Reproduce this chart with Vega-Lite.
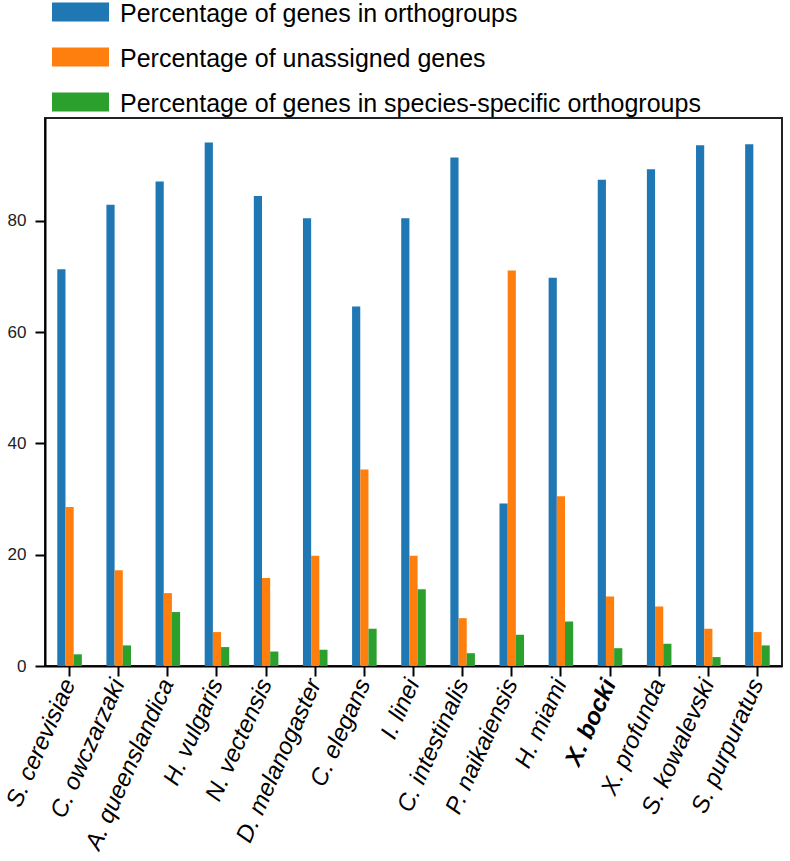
{
  "$schema": "https://vega.github.io/schema/vega-lite/v6.json",
  "width": 737,
  "height": 548,
  "autosize": {"type": "none"},
  "padding": {"left": 45, "top": 118, "right": 8, "bottom": 195},
  "background": "white",
  "data": {
    "values": [
      {"species": "S. cerevisiae", "series": "Percentage of genes in orthogroups", "value": 71.3},
      {"species": "S. cerevisiae", "series": "Percentage of unassigned genes", "value": 28.6},
      {"species": "S. cerevisiae", "series": "Percentage of genes in species-specific orthogroups", "value": 2.1},
      {"species": "C. owczarzaki", "series": "Percentage of genes in orthogroups", "value": 82.9},
      {"species": "C. owczarzaki", "series": "Percentage of unassigned genes", "value": 17.2},
      {"species": "C. owczarzaki", "series": "Percentage of genes in species-specific orthogroups", "value": 3.7},
      {"species": "A. queenslandica", "series": "Percentage of genes in orthogroups", "value": 87.1},
      {"species": "A. queenslandica", "series": "Percentage of unassigned genes", "value": 13.1},
      {"species": "A. queenslandica", "series": "Percentage of genes in species-specific orthogroups", "value": 9.7},
      {"species": "H. vulgaris", "series": "Percentage of genes in orthogroups", "value": 94.1},
      {"species": "H. vulgaris", "series": "Percentage of unassigned genes", "value": 6.1},
      {"species": "H. vulgaris", "series": "Percentage of genes in species-specific orthogroups", "value": 3.4},
      {"species": "N. vectensis", "series": "Percentage of genes in orthogroups", "value": 84.5},
      {"species": "N. vectensis", "series": "Percentage of unassigned genes", "value": 15.8},
      {"species": "N. vectensis", "series": "Percentage of genes in species-specific orthogroups", "value": 2.6},
      {"species": "D. melanogaster", "series": "Percentage of genes in orthogroups", "value": 80.5},
      {"species": "D. melanogaster", "series": "Percentage of unassigned genes", "value": 19.8},
      {"species": "D. melanogaster", "series": "Percentage of genes in species-specific orthogroups", "value": 2.9},
      {"species": "C. elegans", "series": "Percentage of genes in orthogroups", "value": 64.6},
      {"species": "C. elegans", "series": "Percentage of unassigned genes", "value": 35.3},
      {"species": "C. elegans", "series": "Percentage of genes in species-specific orthogroups", "value": 6.7},
      {"species": "I. linei", "series": "Percentage of genes in orthogroups", "value": 80.5},
      {"species": "I. linei", "series": "Percentage of unassigned genes", "value": 19.8},
      {"species": "I. linei", "series": "Percentage of genes in species-specific orthogroups", "value": 13.8},
      {"species": "C. intestinalis", "series": "Percentage of genes in orthogroups", "value": 91.4},
      {"species": "C. intestinalis", "series": "Percentage of unassigned genes", "value": 8.6},
      {"species": "C. intestinalis", "series": "Percentage of genes in species-specific orthogroups", "value": 2.3},
      {"species": "P. naikaiensis", "series": "Percentage of genes in orthogroups", "value": 29.2},
      {"species": "P. naikaiensis", "series": "Percentage of unassigned genes", "value": 71.1},
      {"species": "P. naikaiensis", "series": "Percentage of genes in species-specific orthogroups", "value": 5.6},
      {"species": "H. miami", "series": "Percentage of genes in orthogroups", "value": 69.8},
      {"species": "H. miami", "series": "Percentage of unassigned genes", "value": 30.5},
      {"species": "H. miami", "series": "Percentage of genes in species-specific orthogroups", "value": 8.0},
      {"species": "X. bocki", "series": "Percentage of genes in orthogroups", "value": 87.4},
      {"species": "X. bocki", "series": "Percentage of unassigned genes", "value": 12.5},
      {"species": "X. bocki", "series": "Percentage of genes in species-specific orthogroups", "value": 3.2},
      {"species": "X. profunda", "series": "Percentage of genes in orthogroups", "value": 89.3},
      {"species": "X. profunda", "series": "Percentage of unassigned genes", "value": 10.7},
      {"species": "X. profunda", "series": "Percentage of genes in species-specific orthogroups", "value": 4.0},
      {"species": "S. kowalevski", "series": "Percentage of genes in orthogroups", "value": 93.6},
      {"species": "S. kowalevski", "series": "Percentage of unassigned genes", "value": 6.7},
      {"species": "S. kowalevski", "series": "Percentage of genes in species-specific orthogroups", "value": 1.6},
      {"species": "S. purpuratus", "series": "Percentage of genes in orthogroups", "value": 93.8},
      {"species": "S. purpuratus", "series": "Percentage of unassigned genes", "value": 6.1},
      {"species": "S. purpuratus", "series": "Percentage of genes in species-specific orthogroups", "value": 3.7}
    ]
  },
  "mark": {"type": "bar"},
  "encoding": {
    "x": {
      "field": "species",
      "type": "nominal",
      "sort": null,
      "scale": {"paddingInner": 0.5, "paddingOuter": 0.25},
      "axis": {
        "title": null,
        "labelAngle": -66,
        "labelFont": "Liberation Sans",
        "labelFontSize": 24,
        "labelFontStyle": "italic",
        "labelColor": "#000",
        "labelPadding": 4,
        "labelFontWeight": {"condition": {"test": "datum.value === 'X. bocki'", "value": "bold"}, "value": "normal"},
        "tickSize": 10,
        "tickWidth": 2,
        "tickColor": "#000",
        "domainColor": "#000",
        "domainWidth": 2,
        "labelOverlap": false,
        "labelLimit": 400
      }
    },
    "xOffset": {
      "field": "series",
      "type": "nominal",
      "sort": ["Percentage of genes in orthogroups", "Percentage of unassigned genes", "Percentage of genes in species-specific orthogroups"],
      "scale": {"paddingInner": 0, "paddingOuter": 0}
    },
    "y": {
      "field": "value",
      "type": "quantitative",
      "scale": {"domain": [0, 98.5], "nice": false, "zero": true},
      "axis": {
        "title": null,
        "values": [0, 20, 40, 60, 80],
        "grid": false,
        "labelFont": "Liberation Sans",
        "labelFontSize": 17,
        "labelColor": "#222",
        "labelPadding": 9,
        "tickSize": 10,
        "tickWidth": 2,
        "tickColor": "#000",
        "domainColor": "#000",
        "domainWidth": 2
      }
    },
    "color": {
      "field": "series",
      "type": "nominal",
      "sort": ["Percentage of genes in orthogroups", "Percentage of unassigned genes", "Percentage of genes in species-specific orthogroups"],
      "scale": {"range": ["#1f77b4", "#ff7f0e", "#2ca02c"]},
      "legend": {
        "title": null,
        "orient": "none",
        "legendX": 16.5,
        "legendY": -125,
        "padding": 0,
        "symbolType": "M-1.5,-0.5H1.5V0.5H-1.5Z",
        "symbolSize": 1444,
        "symbolStrokeWidth": 0,
        "symbolOpacity": 1,
        "labelFont": "Liberation Sans",
        "labelFontSize": 25,
        "labelColor": "#000",
        "labelOffset": 20.5,
        "labelLimit": 800,
        "rowPadding": 11,
        "encode": {"labels": {"update": {"dy": {"value": 2}}}}
      }
    }
  },
  "config": {
    "view": {"stroke": "#222", "strokeWidth": 2}
  }
}
